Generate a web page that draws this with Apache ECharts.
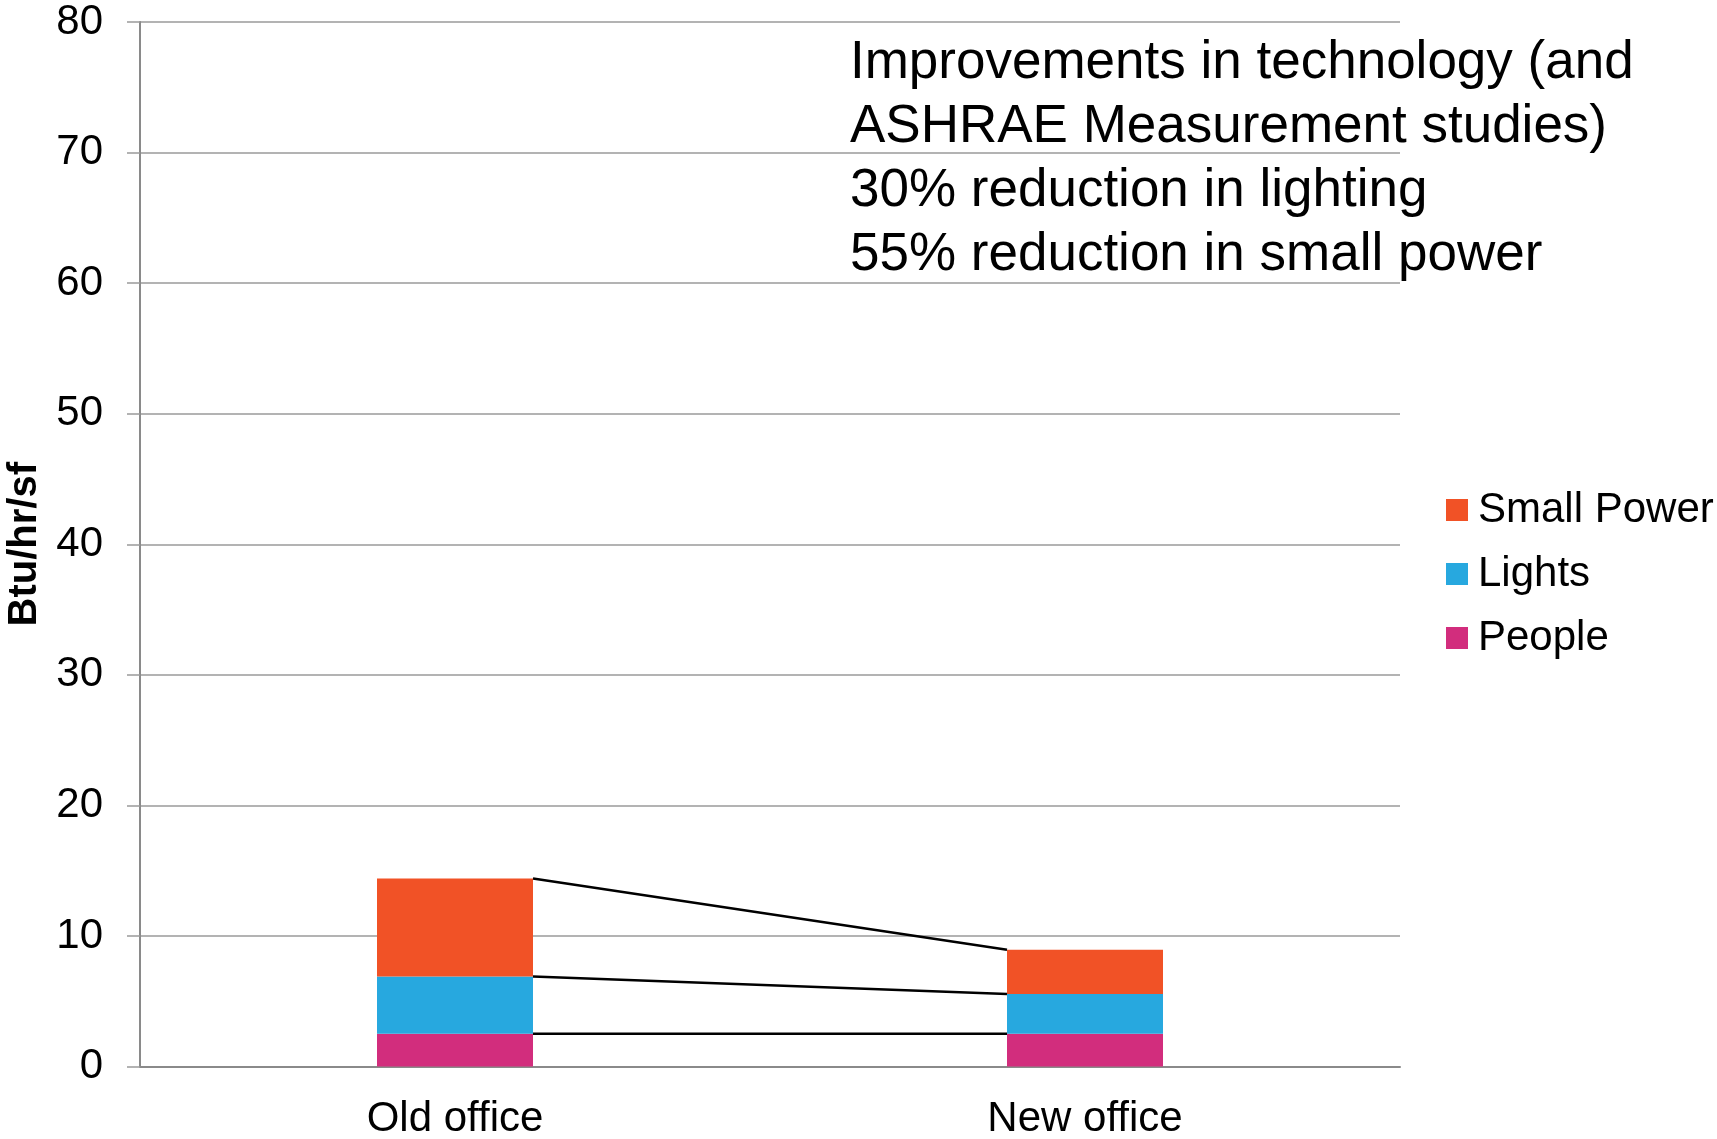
<!DOCTYPE html>
<html>
<head>
<meta charset="utf-8">
<script src="https://cdn.jsdelivr.net/npm/echarts@6/dist/echarts.min.js"></script>
<style>
  html, body { margin: 0; padding: 0; background: #fff; }
  #chart { width: 1717px; height: 1139px; }
</style>
</head>
<body>
<div id="chart"></div>
<script>
// data
var categories = ["Old office", "New office"];
var people = [2.5, 2.5];
var lights = [4.4, 3.05];
var smallPower = [7.5, 3.4];
var yTicks = [0, 10, 20, 30, 40, 50, 60, 70, 80];
var note = [
  "Improvements in technology (and",
  "ASHRAE Measurement studies)",
  "30% reduction in lighting",
  "55% reduction in small power"
];

var BAR_W = 156;
var font = "Liberation Sans, Arial, sans-serif";

// tops of each stacked segment, for the connector lines
var links = [];
[people, lights, smallPower].reduce(function (acc, arr) {
  var next = acc.map(function (v, i) { return v + arr[i]; });
  links.push([0, next[0], next[1]]);
  return next;
}, [0, 0]);

var chart = echarts.init(document.getElementById("chart"));
chart.setOption({
  animation: false,
  textStyle: { fontFamily: font },
  grid: { left: 140, right: 317, top: 22, bottom: 72.5, containLabel: false, outerBoundsMode: "none" },
  legend: {
    orient: "vertical",
    left: 1441,
    top: 484,
    itemWidth: 22,
    itemHeight: 22,
    itemGap: 22,
    icon: "rect",
    data: ["Small Power", "Lights", "People"],
    textStyle: { fontSize: 42, lineHeight: 41, color: "#000", padding: [0, 0, 0, 5] }
  },
  xAxis: {
    type: "category",
    data: categories,
    axisTick: { show: false },
    axisLine: { lineStyle: { color: "#8a8a8a", width: 2 } },
    axisLabel: { fontSize: 42, color: "#000", margin: 32 }
  },
  yAxis: {
    type: "value",
    min: yTicks[0],
    max: yTicks[yTicks.length - 1],
    interval: 10,
    name: "Btu/hr/sf",
    nameLocation: "middle",
    nameGap: 94,
    nameTextStyle: { fontSize: 40, fontWeight: "bold", color: "#000" },
    axisLine: { show: true, lineStyle: { color: "#8a8a8a", width: 2 } },
    axisTick: { show: true, length: 13, lineStyle: { color: "#9a9a9a", width: 1.5 } },
    axisLabel: { fontSize: 42, color: "#000", margin: 37 },
    splitLine: { lineStyle: { color: "#9a9a9a", width: 1.5 } }
  },
  series: [
    { name: "People", type: "bar", stack: "t", barWidth: BAR_W, data: people,
      itemStyle: { color: "#D22D7D" } },
    { name: "Lights", type: "bar", stack: "t", barWidth: BAR_W, data: lights,
      itemStyle: { color: "#27A8DF" } },
    { name: "Small Power", type: "bar", stack: "t", barWidth: BAR_W, data: smallPower,
      itemStyle: { color: "#F15226" } },
    {
      type: "custom",
      data: links,
      encode: { x: 0, y: [1, 2] },
      z: 5,
      renderItem: function (params, api) {
        var a = api.coord([0, api.value(1)]);
        var b = api.coord([1, api.value(2)]);
        return {
          type: "line",
          shape: { x1: a[0] + BAR_W / 2, y1: a[1], x2: b[0] - BAR_W / 2, y2: b[1] },
          style: { stroke: "#000", lineWidth: 2.5 }
        };
      }
    }
  ],
  graphic: [{
    type: "text",
    left: 850,
    top: 31,
    style: {
      text: note.join("\n"),
      font: "53px " + font,
      lineHeight: 64,
      fill: "#000"
    }
  }]
});
</script>
</body>
</html>
